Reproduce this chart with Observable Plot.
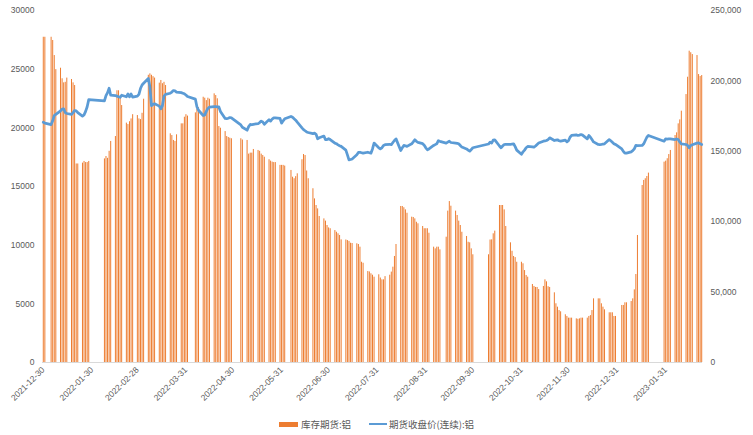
<!DOCTYPE html>
<html><head><meta charset="utf-8">
<script src="https://cdn.jsdelivr.net/npm/d3@7"></script>
<script src="https://cdn.jsdelivr.net/npm/@observablehq/plot@0.6"></script>
<style>
body{margin:0;background:#fff;}
#chart svg{display:block;}
#legend{display:flex;justify-content:center;align-items:center;height:28px;font:9.5px "Noto Sans CJK SC","Noto Sans",sans-serif;color:#595959;white-space:nowrap;}
.sw{display:inline-block;}
.sw.bar{width:19px;height:5px;background:#ED7D31;margin-right:3px;}
.sw.line{width:18px;height:2.5px;background:#5B9BD5;margin-left:18px;margin-right:2px;}
</style></head>
<body>
<div id="chart"></div>
<div id="legend"></div>
<script>
// Series names
const seriesNames = ["库存期货:铝", "期货收盘价(连续):铝"];
// Trading weeks start on this Monday; each inner array = Mon..Fri (null = no trading)
const firstMonday = "2021-12-27";
// Inventory, thousand tonnes (right axis)
const inventoryKt = [
  [null,null,null,231,231],
  [null,231,228.7,218,208],
  [209,201.5,198.6,199,202],
  [201,198.6,196.7,141,141],
  [141.6,142.8,142,142,142.8],
  [null,null,null,null,null],
  [144.6,146.3,145,150,157],
  [160.5,193,193,188,182.5],
  [170,169,171,173,176],
  [175.4,173,172.5,177,187],
  [204,205,204,203,202],
  [198.4,200.3,198,199,196.7],
  [162.4,161.2,157.7,157,161.7],
  [169.5,169.5,174.2,176,175],
  [null,null,177.3,180,181],
  [188.4,187.7,186,187.7,187],
  [190.8,189.6,187.3,167.6,166.4],
  [164,160.5,159.8,159.3,158.9],
  [null,null,null,158.9,158],
  [157.7,148,148.7,148.7,151.3],
  [150.6,150,148,147,145.8],
  [144,143,142.3,142,142],
  [140,140,140,139.5,null],
  [136.4,131.6,130.5,132,134],
  [144,147.7,147,136,130.5],
  [123.4,116.2,111.5,109.1,103.7],
  [102,100.4,97.3,95.6,95],
  [93.7,92.5,91.4,90.2,87.1],
  [87,86.6,86,84.7,84.5],
  [84.3,83.8,81.9,71.2,70.5],
  [64.6,64.3,63,62,60.6],
  [62.3,60,58.7,58.7,61],
  [62,64.2,67.7,75.3,83.8],
  [110.8,110.8,109.9,108.4,106],
  [103.2,103,102,99.6,98.5],
  [96.6,95,95,95,91.8],
  [81.9,80.7,81.9,81.9,80],
  [null,89,107.5,114.3,111],
  [107.5,104.4,100.4,97.3,92.5],
  [89.5,85.4,85,80.7,76.5],
  [null,null,null,null,null],
  [76.5,87,87.1,91.4,93.3],
  [111.5,111.5,111.5,108.4,96.6],
  [85,79,75.3,74.5,71.2],
  [71.2,70.1,65.3,61.8,60.6],
  [55.4,54,53.3,53.3,51.8],
  [54,58.7,57.3,53.8,53.3],
  [49.5,41.7,39.3,36.9,36],
  [33.9,32.7,31.5,31.5,31.5],
  [31,30.7,31,31.5,31.5],
  [31.5,32.7,33.3,36.9,45.2],
  [45.2,45.2,41.7,39.3,37.4],
  [35.3,35.3,35.3,32.7,32.7],
  [null,40.5,40.5,42.4,42.4],
  [43.3,45.2,51.6,62.5,90.2],
  [125.7,129.3,130.5,132.1,134.5],
  [null,null,null,null,null],
  [142.3,143,144.7,147.7,150.6],
  [161.2,163.1,169.5,172.3,178.5],
  [190.3,202.6,221.1,220,218.7],
  [218,204.5,203.1,203.8,null]
];
// Continuous futures close, yuan/tonne (left axis)
const price = [
  [null,null,null,20480,20400],
  [null,20280,20600,21050,21150],
  [21450,21600,21620,21300,21220],
  [21140,21300,21480,21450,21300],
  [21000,21100,21400,21800,22400],
  [null,null,null,null,null],
  [22290,22750,23000,23380,22780],
  [22750,22700,22650,22600,22780],
  [22650,22880,22640,22880,22620],
  [22700,22850,23350,23650,23800],
  [24200,23500,21900,22000,22050],
  [21850,21620,21900,22700,22850],
  [22950,23050,23180,23150,23050],
  [23000,22950,22900,22800,22670],
  [null,null,22450,21800,21500],
  [21050,21100,21400,21650,21760],
  [21800,21800,21780,21780,21400],
  [20800,20780,20820,20880,20850],
  [null,null,null,20250,20050],
  [19800,20100,20290,20260,20300],
  [20350,20450,20570,20500,20300],
  [20700,20570,20750,20850,20850],
  [20800,20400,20600,20770,null],
  [20970,20900,20770,20650,20480],
  [20000,19850,19750,19650,19600],
  [19500,19550,19450,19070,19150],
  [19300,19000,19000,19070,19000],
  [18700,18650,18550,18480,18420],
  [18100,17700,17270,17300,17350],
  [17700,17900,17920,17880,17840],
  [17920,17880,17840,18200,18700],
  [18300,18210,18300,18500,18560],
  [18600,18560,18750,18920,19060],
  [18070,18300,18500,18470,18420],
  [18640,18800,18980,18850,18760],
  [18650,18520,18300,18130,18200],
  [18500,18570,18640,18900,18850],
  [null,18700,18780,18860,18750],
  [18700,18680,18640,18500,18360],
  [18200,18100,18010,18150,18300],
  [null,null,null,null,null],
  [18620,18780,18700,18950,18980],
  [18450,18300,18450,18580,18600],
  [18580,18620,18640,18400,18100],
  [17750,17950,18100,18300,18410],
  [18380,18350,18450,18580,18700],
  [18860,18880,18920,19000,19150],
  [18920,18950,18980,18900,18860],
  [18950,18800,18900,19200,19350],
  [19400,19350,19380,19430,19380],
  [19060,19350,19200,19000,18800],
  [18580,18560,18580,18620,18640],
  [19000,18900,18780,18650,18580],
  [null,18200,18000,17840,17850],
  [17950,18050,18210,18500,18480],
  [18500,18640,18920,19200,19350],
  [null,null,null,null,null],
  [18860,19060,19040,19060,19060],
  [19000,19050,19000,18800,18640],
  [18580,18500,18300,18500,18560],
  [18700,18720,18640,18580,null]
];
const tickDates = ["2021-12-30","2022-01-30","2022-02-28","2022-03-31","2022-04-30","2022-05-31","2022-06-30","2022-07-31","2022-08-31","2022-09-30","2022-10-31","2022-11-30","2022-12-31","2023-01-31"];
const leftTicks = [0,5000,10000,15000,20000,25000,30000];
const rightTicks = [0,50000,100000,150000,200000,250000];
const leftMax = 30000, rightMax = 250000;
const ratio = leftMax / rightMax;

const start = new Date(firstMonday + "T00:00:00Z");
const rows = [];
inventoryKt.forEach((week, w) => week.forEach((v, i) => {
  const p = price[w][i];
  if (v == null && p == null) return;
  rows.push({date: new Date(start.getTime() + (7 * w + i) * 864e5), inv: v == null ? null : v * 1000, price: p});
}));

const chart = Plot.plot({
  width: 753, height: 410,
  marginLeft: 42, marginRight: 51, marginTop: 10, marginBottom: 48,
  style: {fontFamily: "'Liberation Sans', Arial, sans-serif", fontSize: "8.5px", color: "#595959", background: "#fff", overflow: "visible"},
  x: {type: "utc", domain: [new Date("2021-12-29T12:00:00Z"), new Date("2023-02-23T12:00:00Z")]},
  y: {domain: [0, leftMax]},
  marks: [
    Plot.ruleX(rows.filter(d => d.inv != null), {x: "date", y1: 0, y2: d => d.inv * ratio, stroke: "#ED7D31", strokeWidth: 1}),
    Plot.ruleY([0], {stroke: "#D9D9D9"}),
    Plot.lineY(rows.filter(d => d.price != null), {x: "date", y: "price", stroke: "#5B9BD5", strokeWidth: 2.75, strokeLinejoin: "round", strokeLinecap: "round"}),
    Plot.axisY(leftTicks, {anchor: "left", tickSize: 0, tickPadding: 8, tickFormat: d => String(d), label: null}),
    Plot.axisY(rightTicks.map(d => d * ratio), {anchor: "right", tickSize: 0, tickPadding: 8, tickFormat: d => d3.format(",")(Math.round(d / ratio)), label: null}),
    Plot.axisX(tickDates.map(s => new Date(s + "T00:00:00Z")), {tickRotate: -45, tickSize: 0, tickPadding: 6, tickFormat: d3.utcFormat("%Y-%m-%d"), label: null})
  ]
});
document.getElementById("chart").appendChild(chart);

const legend = document.getElementById("legend");
legend.innerHTML = `<span class="sw bar"></span><span>${seriesNames[0]}</span><span class="sw line"></span><span>${seriesNames[1]}</span>`;
</script>
</body></html>
